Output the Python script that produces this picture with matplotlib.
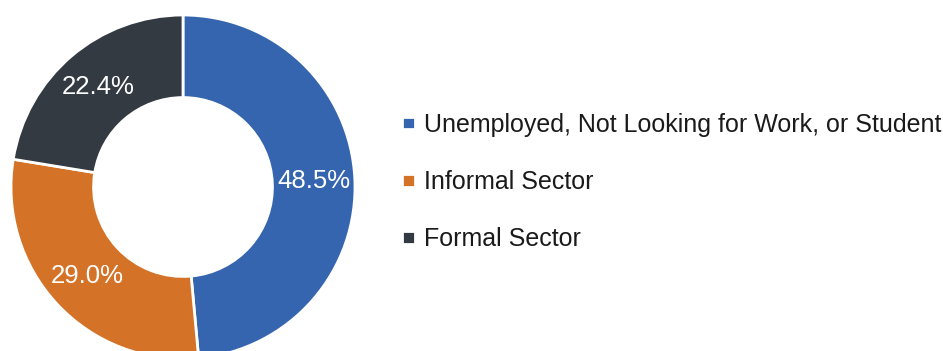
import matplotlib
matplotlib.use("Agg")
import matplotlib.pyplot as plt

plt.rcParams["font.family"] = ["Liberation Sans", "DejaVu Sans"]

# employment status shares (%)
labels = ["Unemployed, Not Looking for Work, or Student", "Informal Sector", "Formal Sector"]
shares = [48.5, 29.0, 22.4]
colors = ["#3565AF", "#D47328", "#333A42"]

fig = plt.figure(figsize=(9.43, 3.51), dpi=100)
ax = fig.add_axes([11 / 943, -8 / 351, 344 / 943, 344 / 351])

wedges, texts, autotexts = ax.pie(
    shares,
    colors=colors,
    startangle=90,
    counterclock=False,
    radius=1,
    autopct="%.1f%%",
    pctdistance=0.76,
    wedgeprops=dict(width=0.48, edgecolor="white", linewidth=2),
    textprops=dict(color="white", fontsize=18.5),
)
ax.set_xlim(-1, 1)
ax.set_ylim(-1, 1)
ax.set_aspect("equal")
ax.axis("off")

fig.legend(
    wedges, labels,
    loc="center left",
    bbox_to_anchor=(402 / 943, 0.481),
    frameon=False,
    borderpad=0,
    borderaxespad=0,
    handlelength=0.5,
    handleheight=0.4,
    handletextpad=0.4,
    labelspacing=1.33,
    fontsize=18,
    labelcolor="#1a1a1a",
)

fig.savefig("out.png", dpi=100)
